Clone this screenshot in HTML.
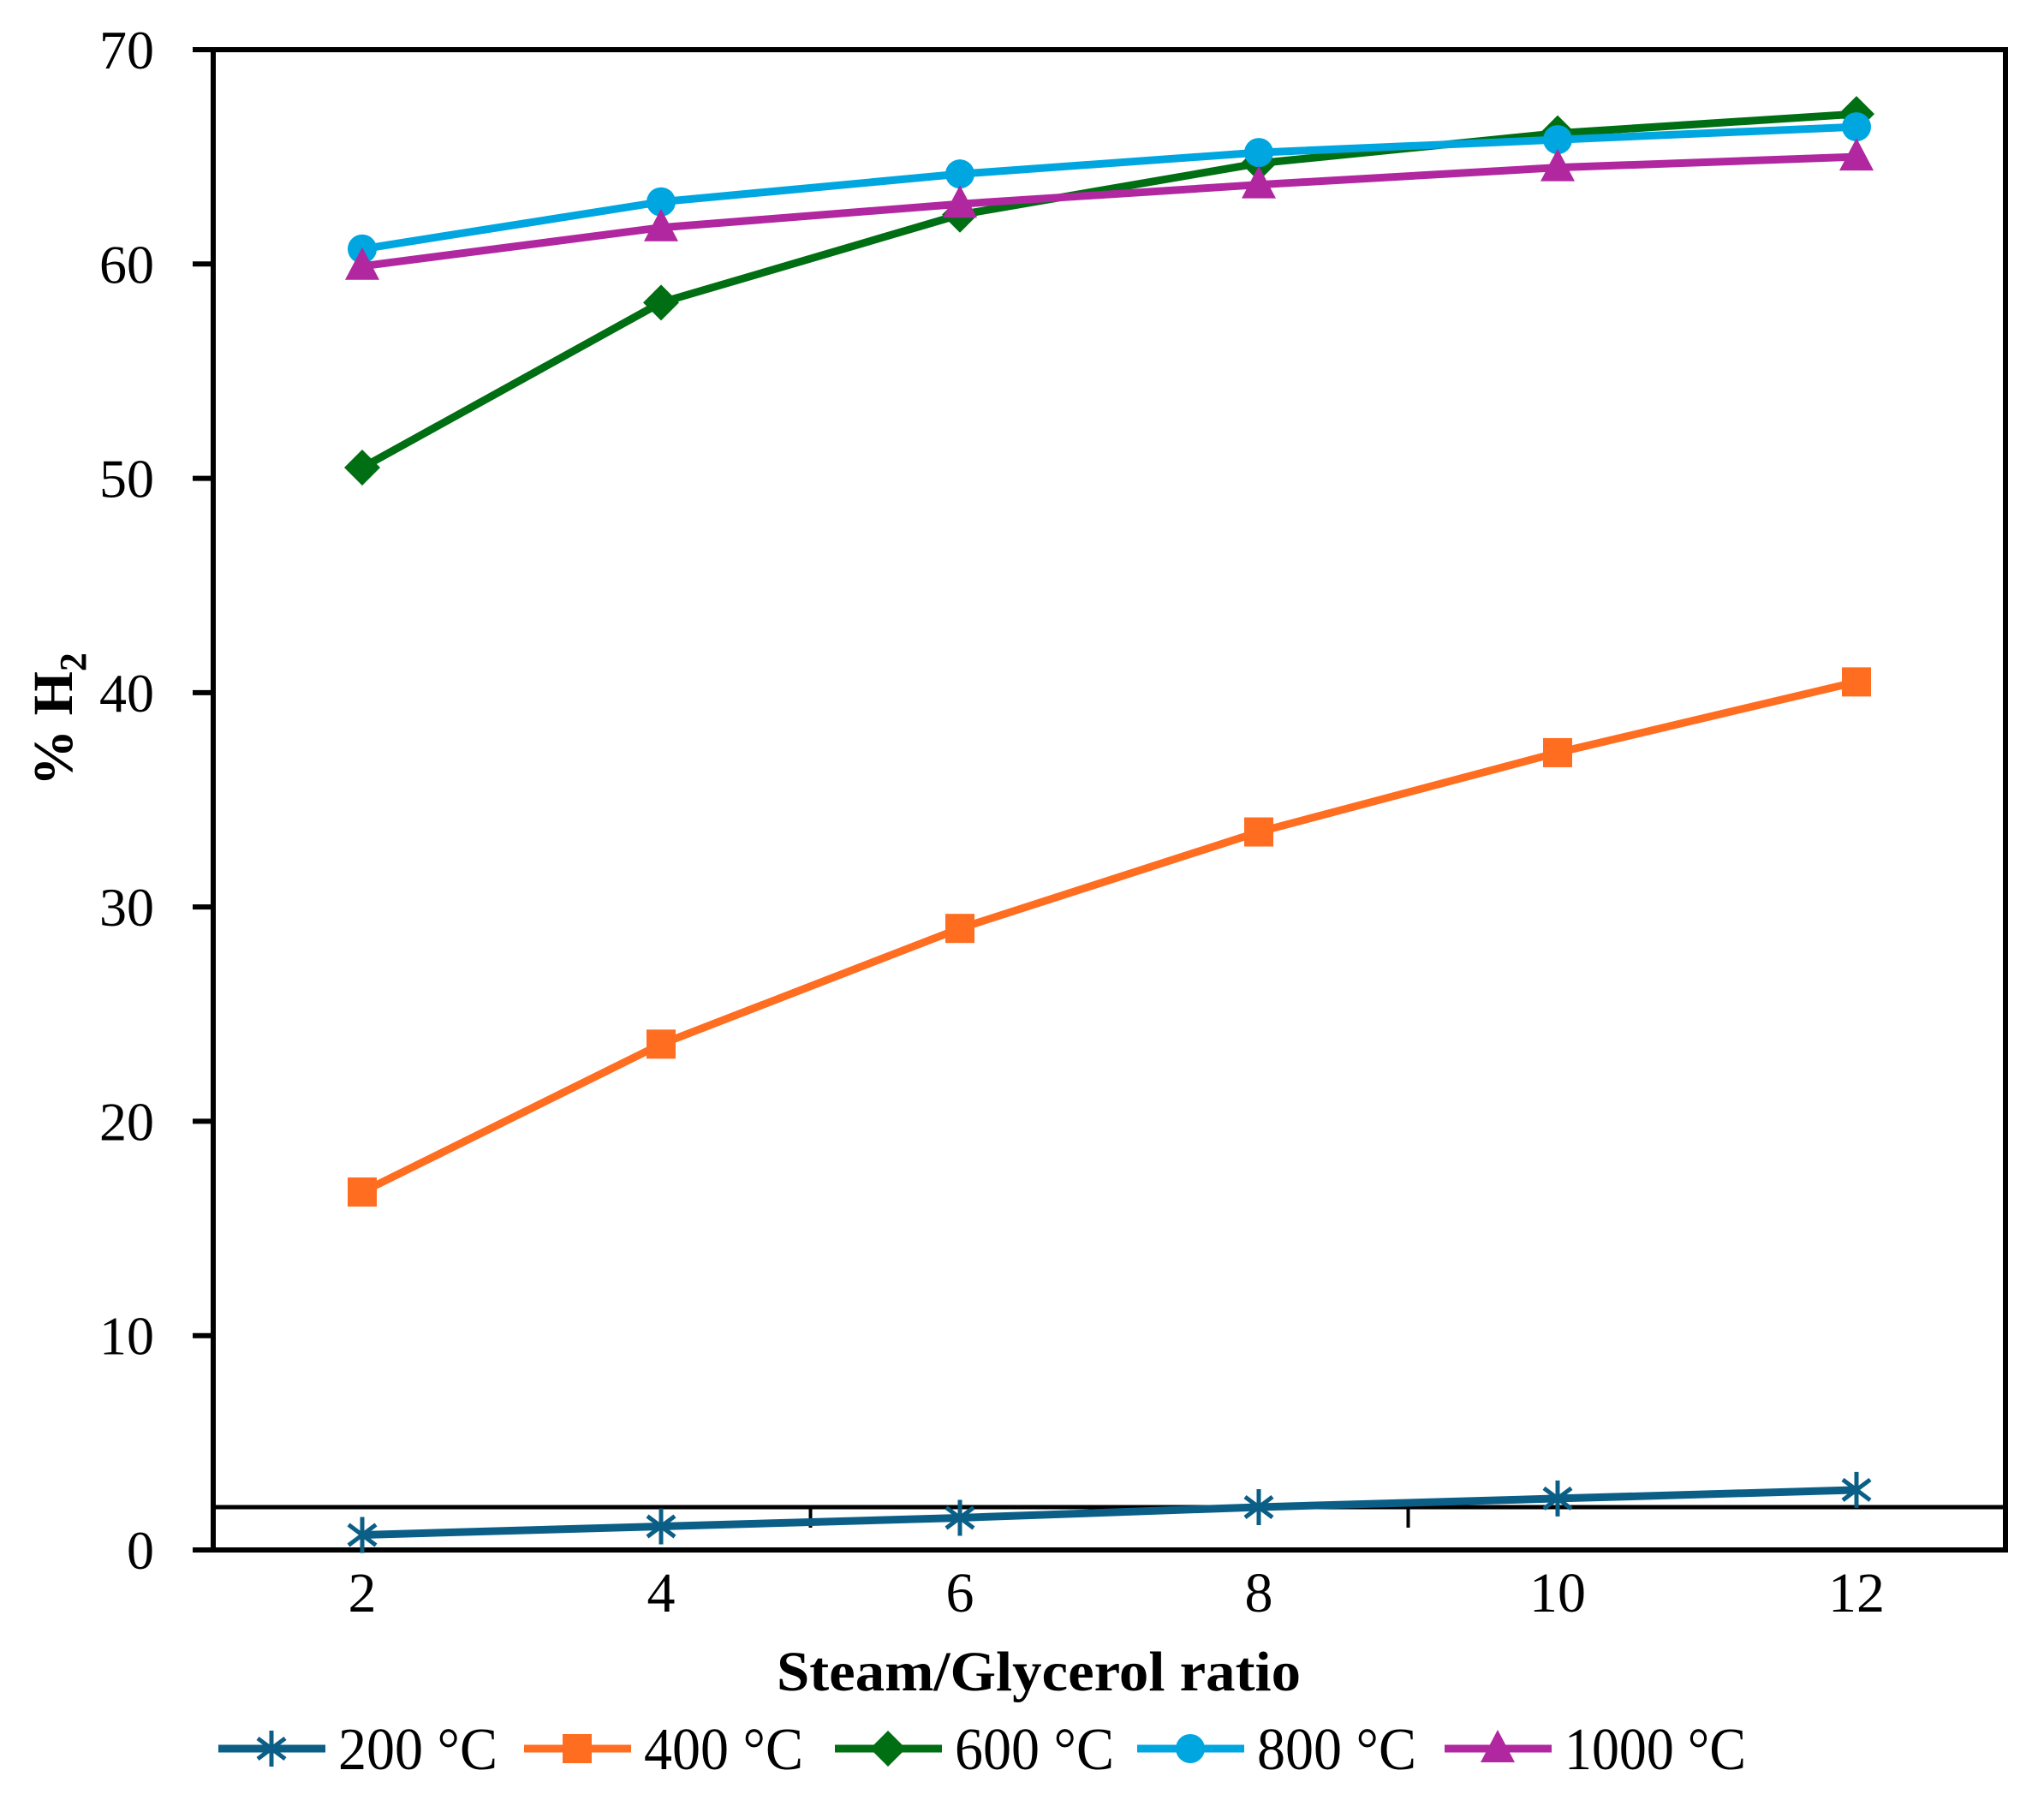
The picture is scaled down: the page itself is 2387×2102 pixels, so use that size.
<!DOCTYPE html>
<html><head><meta charset="utf-8"><style>
html,body{margin:0;padding:0;background:#fff;}
svg text{font-family:"Liberation Serif",serif;fill:#000;}
</style></head><body>
<svg id="chart" width="2387" height="2097" viewBox="0 0 2387 2097" xmlns="http://www.w3.org/2000/svg">
<g id="axes"></g><g id="series"></g><g id="legend"></g>
</svg>
<script>
const categories = [2, 4, 6, 8, 10, 12];
const s200 = [0.7, 1.1, 1.5, 2.0, 2.4, 2.8];
const s400 = [16.7, 23.6, 29.0, 33.5, 37.2, 40.5];
const s600 = [50.5, 58.2, 62.3, 64.7, 66.1, 67.0];
const s800 = [60.7, 62.9, 64.2, 65.2, 65.8, 66.4];
const s1000 = [59.9, 61.7, 62.8, 63.7, 64.5, 65.0];
const yTicks = [0, 10, 20, 30, 40, 50, 60, 70];
const seriesNames = ["200 °C", "400 °C", "600 °C", "800 °C", "1000 °C"];

const NS = "http://www.w3.org/2000/svg";
const L = 249, R = 2342, T = 58, B = 1810;
function xs(v){ return 423 + (v - 2) * 174.5; }
function ys(v){ return B - v / 70 * (B - T); }
function mk(tag, attrs, parent){
  const e = document.createElementNS(NS, tag);
  for (const k in attrs) e.setAttribute(k, attrs[k]);
  parent.appendChild(e); return e;
}
const axes = document.getElementById('axes');
const frame = mk('rect', {x:L, y:T, width:R-L, height:B-T, fill:'none', stroke:'#000', 'stroke-width':6}, axes);


yTicks.forEach(t => {
  const y = ys(t);
  const tk = mk('line', {x1:225, x2:L, y1:y, y2:y, stroke:'#000', 'stroke-width':6}, axes);
  
  
  const tx = mk('text', {x:180, y:y+22, 'text-anchor':'end', 'font-size':64}, axes);
  tx.textContent = t;
  
  
});
const sec = mk('line', {x1:L, x2:R, y1:ys(2), y2:ys(2), stroke:'#000', 'stroke-width':5}, axes);


[5, 9].forEach(v => {
  const st = mk('line', {x1:xs(v), x2:xs(v), y1:ys(2), y2:ys(2)+24, stroke:'#000', 'stroke-width':4}, axes);
  
  
});
categories.forEach(c => {
  const tx = mk('text', {x:xs(c), y:1882, 'text-anchor':'middle', 'font-size':66}, axes);
  tx.textContent = c;
  
  
});
const xt = mk('text', {x:1213, y:1974, 'text-anchor':'middle', 'font-size':66, 'font-weight':'bold', textLength:612, lengthAdjust:'spacingAndGlyphs'}, axes);
xt.textContent = 'Steam/Glycerol ratio';


const yt = mk('text', {x:0, y:0, 'text-anchor':'middle', 'font-size':66, 'font-weight':'bold', transform:'translate(84,840) rotate(-90)'}, axes);
yt.innerHTML = '% H<tspan font-size="44" dy="16">2</tspan>';



const colors = ['#0b5f86', '#ff6d21', '#006e12', '#00a6e0', '#b0279f'];
const shapes = ['star', 'square', 'diamond', 'circle', 'triangle'];
const allData = [s200, s400, s600, s800, s1000];
function marker(g, shape, x, y, c){
  let e;
  if (shape === 'square') e = mk('rect', {x:x-17, y:y-17, width:34, height:34, fill:c}, g);
  else if (shape === 'circle') e = mk('circle', {cx:x, cy:y, r:17, fill:c}, g);
  else if (shape === 'diamond') e = mk('polygon', {points:`${x},${y-21} ${x+21},${y} ${x},${y+21} ${x-21},${y}`, fill:c}, g);
  else if (shape === 'triangle') e = mk('polygon', {points:`${x},${y-22} ${x+20},${y+16} ${x-20},${y+16}`, fill:c}, g);
  else {
    e = mk('path', {d:`M${x},${y-21}V${y+21}M${x-16},${y-12}L${x+16},${y+12}M${x-16},${y+12}L${x+16},${y-12}`, stroke:c, 'stroke-width':5, fill:'none'}, g);
  }
  return e;
}
const sg = document.getElementById('series');
allData.forEach((d, i) => {
  const g = mk('g', {}, sg);
  
  
  const pts = d.map((v, j) => xs(categories[j]) + ',' + ys(v)).join(' ');
  const pl = mk('polyline', {points:pts, fill:'none', stroke:colors[i], 'stroke-width':9, 'stroke-linejoin':'round'}, g);
  
  
  d.forEach((v, j) => {
    const m = marker(g, shapes[i], xs(categories[j]), ys(v), colors[i]);
    
    
  });
});
const lg = document.getElementById('legend');
const legX = [255, 612, 975, 1328, 1687];
seriesNames.forEach((n, i) => {
  const g = mk('g', {}, lg);
  
  
  const x0 = legX[i], y = 2042;
  mk('line', {x1:x0, x2:x0+125, y1:y, y2:y, stroke:colors[i], 'stroke-width':9}, g);
  marker(g, shapes[i], x0+62, y, colors[i]);
  const t = mk('text', {x:x0+140, y:2066, 'font-size':70}, g);
  t.textContent = n;
  t.setAttribute('textLength', i === 4 ? 212 : 186);
  t.setAttribute('lengthAdjust', 'spacingAndGlyphs');
});
</script>
</body></html>
